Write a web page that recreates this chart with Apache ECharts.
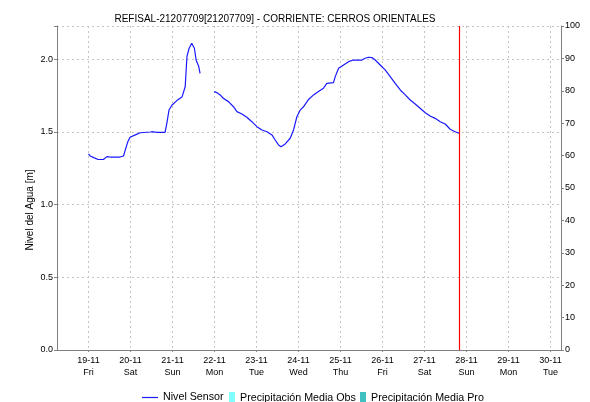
<!DOCTYPE html>
<html><head><meta charset="utf-8">
<script src="https://cdn.jsdelivr.net/npm/echarts@6/dist/echarts.min.js"></script>
<style>html,body{margin:0;padding:0;background:#fff}#c{width:590px;height:402px}</style>
</head><body><div id="c"></div>
<script>
const titleText = 'REFISAL-21207709[21207709] - CORRIENTE: CERROS ORIENTALES';
const yLeftName = 'Nivel del Agua [m]';
const yRightName = 'Precipitación [mm]';
const seriesNames = ['Nivel Sensor', 'Precipitación Media Obs', 'Precipitación Media Pro'];
const dayNames = ['Sun','Mon','Tue','Wed','Thu','Fri','Sat'];
const xStart = '2021-11-18T06:00';
const xEnd = '2021-11-30T06:00';
const nowMarker = '2021-11-27T20:00';
const times = [
 '2021-11-19T00:00','2021-11-19T01:00','2021-11-19T03:00','2021-11-19T05:30','2021-11-19T08:30','2021-11-19T10:30',
 '2021-11-19T12:30','2021-11-19T18:00','2021-11-19T20:00','2021-11-19T21:00','2021-11-19T22:30','2021-11-19T23:45',
 '2021-11-20T02:45','2021-11-20T05:30','2021-11-20T11:15','2021-11-20T13:00','2021-11-20T15:00','2021-11-20T19:45',
 '2021-11-20T20:45','2021-11-20T22:00','2021-11-20T23:45','2021-11-21T02:30','2021-11-21T05:30','2021-11-21T07:15',
 '2021-11-21T08:15','2021-11-21T09:30','2021-11-21T11:00','2021-11-21T11:45','2021-11-21T12:30','2021-11-21T13:30',
 '2021-11-21T15:00','2021-11-21T15:45','2021-11-21T19:00',
 '2021-11-21T23:45','2021-11-22T01:15','2021-11-22T03:15','2021-11-22T05:00','2021-11-22T08:00','2021-11-22T10:50',
 '2021-11-22T12:50','2021-11-22T15:40','2021-11-22T18:30','2021-11-22T21:20','2021-11-23T00:15','2021-11-23T03:05',
 '2021-11-23T06:00','2021-11-23T08:50','2021-11-23T10:40','2021-11-23T12:35','2021-11-23T14:00','2021-11-23T16:25',
 '2021-11-23T19:15','2021-11-23T21:10','2021-11-23T23:05','2021-11-24T01:00','2021-11-24T02:55','2021-11-24T05:45',
 '2021-11-24T08:35','2021-11-24T11:25','2021-11-24T14:15','2021-11-24T16:10','2021-11-24T20:00','2021-11-24T21:00',
 '2021-11-24T22:55','2021-11-25T01:45','2021-11-25T04:35','2021-11-25T07:25','2021-11-25T12:15','2021-11-25T14:05',
 '2021-11-25T16:00','2021-11-25T17:55','2021-11-25T19:50','2021-11-25T22:40','2021-11-26T01:30','2021-11-26T04:25',
 '2021-11-26T07:15','2021-11-26T10:10','2021-11-26T13:00','2021-11-26T15:50','2021-11-26T18:40','2021-11-26T21:30',
 '2021-11-27T00:25','2021-11-27T03:15','2021-11-27T06:05','2021-11-27T09:00','2021-11-27T11:50','2021-11-27T14:40',
 '2021-11-27T17:30','2021-11-27T20:00'
];
const levels = [
 1.348,1.334,1.323,1.310,1.310,1.330,
 1.327,1.327,1.334,1.375,1.433,1.463,
 1.479,1.494,1.499,1.501,1.497,1.497,
 1.559,1.650,1.685,1.715,1.742,1.810,
 2.017,2.075,2.109,2.120,2.075,1.994,
 1.949,1.902,null,
 1.777,1.770,1.754,1.731,1.708,1.673,
 1.639,1.623,1.600,1.570,1.536,1.513,
 1.501,1.479,1.444,1.410,1.398,1.417,
 1.456,1.513,1.604,1.651,1.673,1.723,
 1.754,1.777,1.800,1.834,1.839,1.880,
 1.937,1.960,1.983,1.994,1.994,2.006,
 2.013,2.011,1.994,1.960,1.926,1.880,
 1.834,1.788,1.754,1.719,1.692,1.662,
 1.632,1.609,1.593,1.570,1.554,1.518,
 1.501,1.490
];
const precipObs = [];
const precipPro = [];

const FONT = 'Liberation Sans';
const ts = s => new Date(s).getTime();
const chart = echarts.init(document.getElementById('c'), null, {renderer:'canvas'});
const pad = n => (n < 10 ? '0' : '') + n;
const gridDash = {color:'#c4c4c4', type:[2,3], width:1};
const legendText = {fontFamily: FONT, fontSize: 10.7, color: '#000'};
chart.setOption({
  animation: false,
  backgroundColor: '#fff',
  title: {text: titleText, left: 270, textAlign: 'center', top: 9,
    textStyle: {fontFamily: FONT, fontSize: 10, fontWeight: 'normal', color: '#000'}},
  legend: [
    {data: [{name: seriesNames[0], icon: 'rect'}], left: 137, top: 387, itemWidth: 16, itemHeight: 1.2,
      textStyle: legendText},
    {data: [{name: seriesNames[1], icon: 'rect'}], left: 224, top: 387, itemWidth: 6, itemHeight: 12,
      textStyle: legendText},
    {data: [{name: seriesNames[2], icon: 'rect'}], left: 355, top: 387, itemWidth: 6, itemHeight: 12,
      textStyle: legendText}
  ],
  grid: {left: 57, right: 29, top: 26, bottom: 52, containLabel: false, outerBoundsMode: 'none'},
  xAxis: [{
    type: 'time', min: ts(xStart), max: ts(xEnd), scale: true,
    minInterval: 86400000, maxInterval: 86400000,
    axisLine: {show: true, lineStyle: {color: '#555', type: [1,1], width: 1}},
    axisTick: {show: true, length: 2, lineStyle: {color: '#888'}},
    splitLine: {show: true, lineStyle: gridDash},
    axisLabel: {fontFamily: FONT, fontSize: 9, color: '#000', lineHeight: 12, margin: 5, hideOverlap: false,
      formatter: function (v) { const d = new Date(v); return pad(d.getDate()) + '-' + pad(d.getMonth() + 1) + '\n' + dayNames[d.getDay()]; }}
  }, {
    type: 'time', position: 'top', min: ts(xStart), max: ts(xEnd),
    axisLine: {show: true, lineStyle: {color: '#808080', width: 1}},
    axisTick: {show: false}, axisLabel: {show: false}, splitLine: {show: false}
  }],
  yAxis: [{
    type: 'value', min: 0, max: 2.228, interval: 0.5,
    name: yLeftName, nameLocation: 'middle', nameGap: 22, nameMoveOverlap: false,
    nameTextStyle: {fontFamily: FONT, fontSize: 10, color: '#000', padding: [0, 44, 0, 0]},
    axisLine: {show: true, lineStyle: {color: '#808080', width: 1}},
    axisTick: {show: true, length: 3, lineStyle: {color: '#808080'}},
    splitLine: {show: true, lineStyle: gridDash},
    axisLabel: {fontFamily: FONT, fontSize: 9, color: '#000', margin: 4,
      formatter: function (v) { return Math.abs(v / 0.5 - Math.round(v / 0.5)) < 1e-6 ? v.toFixed(1) : ''; }}
  }, {
    type: 'value', min: 0, max: 100, interval: 10, position: 'right',
    name: yRightName, nameLocation: 'middle', nameGap: 29, nameMoveOverlap: false,
    nameTextStyle: {fontFamily: FONT, fontSize: 10, color: '#000'},
    axisLine: {show: true, lineStyle: {color: '#808080', width: 1}},
    axisTick: {show: true, length: 3, lineStyle: {color: '#808080'}},
    splitLine: {show: false},
    axisLabel: {fontFamily: FONT, fontSize: 9, color: '#000', margin: 4}
  }],
  series: [{
    name: seriesNames[0], type: 'line', xAxisIndex: 0, yAxisIndex: 0,
    symbol: 'none', showSymbol: false, connectNulls: false,
    lineStyle: {color: '#1a1aff', width: 1.2}, itemStyle: {color: '#1a1aff'},
    data: times.map((t, i) => [ts(t), levels[i]])
  }, {
    name: seriesNames[1], type: 'line', xAxisIndex: 0, yAxisIndex: 1, symbol: 'none',
    itemStyle: {color: '#80ffff'}, lineStyle: {color: '#80ffff'}, data: precipObs
  }, {
    name: seriesNames[2], type: 'line', xAxisIndex: 0, yAxisIndex: 1, symbol: 'none',
    itemStyle: {color: '#40c0c0'}, lineStyle: {color: '#40c0c0'}, data: precipPro
  }, {
    name: 'now', type: 'line', xAxisIndex: 0, yAxisIndex: 0, symbol: 'none', data: [],
    color: '#ff0000', itemStyle: {color: '#ff0000'}, lineStyle: {color: '#ff0000'},
    markLine: {silent: true, symbol: ['none', 'none'], label: {show: false},
      lineStyle: {color: '#ff0000', type: 'solid', width: 1.2},
      data: [{xAxis: ts(nowMarker)}]}
  }]
});
</script></body></html>
